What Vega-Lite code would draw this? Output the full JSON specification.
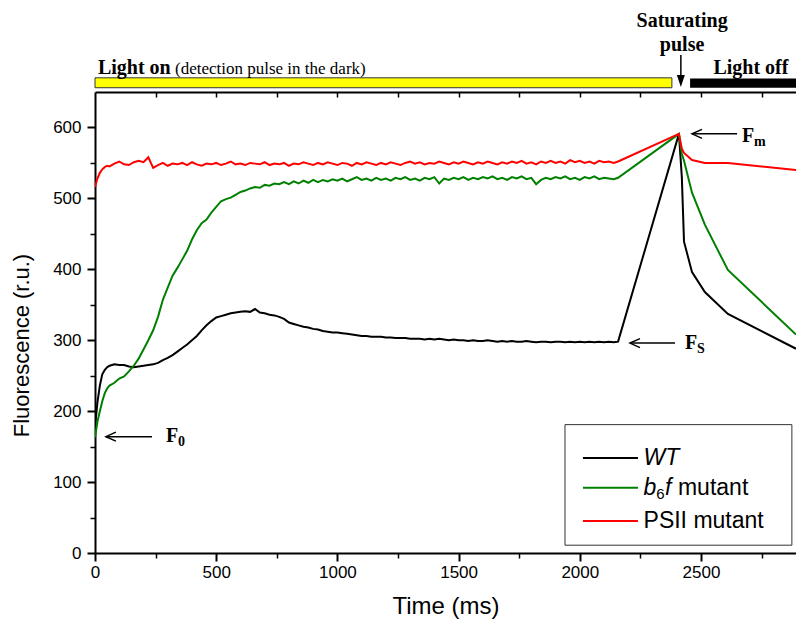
{
  "$schema": "https://vega.github.io/schema/vega-lite/v6.json",
  "width": 701,
  "height": 461,
  "autosize": "none",
  "padding": {"left": 95, "top": 92, "right": 0, "bottom": 72},
  "background": "white",
  "config": {
    "view": {"stroke": null},
    "axis": {"grid": false, "domainColor": "black", "tickColor": "black", "labelColor": "black", "titleColor": "black", "labelFont": "Liberation Sans", "titleFont": "Liberation Sans", "labelFlush": false}
  },
  "resolve": {"axis": {"x": "independent", "y": "independent"}},
  "datasets": {
    "curves": [
      {"t":0,"a":178,"b":163,"c":516},{"t":10,"a":212,"b":185,"c":528},{"t":20,"a":236,"b":200,"c":536},{"t":30,"a":252,"b":214,"c":541},{"t":40,"a":258,"b":225,"c":544},{"t":50,"a":262,"b":232,"c":546},{"t":60,"a":264,"b":236,"c":545},{"t":80,"a":266,"b":240,"c":549},{"t":100,"a":265,"b":246,"c":552},{"t":120,"a":265,"b":249,"c":548},{"t":140,"a":263,"b":256,"c":547},{"t":160,"a":262,"b":264,"c":551},{"t":180,"a":263,"b":274,"c":553},{"t":200,"a":264,"b":287,"c":551},{"t":220,"a":265,"b":300,"c":558},{"t":240,"a":266,"b":314,"c":543},{"t":260,"a":268,"b":333,"c":547},{"t":280,"a":272,"b":357,"c":550},{"t":300,"a":275,"b":374,"c":546},{"t":320,"a":279,"b":391,"c":549},{"t":340,"a":284,"b":402,"c":548},{"t":360,"a":289,"b":414,"c":550},{"t":380,"a":294,"b":426,"c":547},{"t":400,"a":300,"b":442,"c":551},{"t":420,"a":306,"b":455,"c":548},{"t":440,"a":314,"b":465,"c":546},{"t":460,"a":321,"b":470,"c":549},{"t":480,"a":327,"b":480,"c":548},{"t":500,"a":332,"b":488,"c":550},{"t":520,"a":334,"b":496,"c":547},{"t":540,"a":336,"b":499,"c":549},{"t":560,"a":338,"b":501,"c":552},{"t":580,"a":339,"b":505,"c":548},{"t":600,"a":340,"b":509,"c":549},{"t":620,"a":341,"b":511,"c":547},{"t":640,"a":340,"b":514,"c":550},{"t":660,"a":344,"b":516,"c":549},{"t":680,"a":339,"b":515,"c":548},{"t":700,"a":338,"b":519,"c":551},{"t":720,"a":336,"b":518,"c":547},{"t":740,"a":335,"b":521,"c":549},{"t":760,"a":333,"b":520,"c":548},{"t":780,"a":330,"b":523,"c":550},{"t":800,"a":325,"b":520,"c":546},{"t":820,"a":323,"b":524,"c":549},{"t":840,"a":321,"b":521,"c":548},{"t":860,"a":319,"b":525,"c":551},{"t":880,"a":318,"b":522,"c":549},{"t":900,"a":316,"b":526,"c":547},{"t":920,"a":315,"b":523,"c":550},{"t":940,"a":313,"b":526,"c":548},{"t":960,"a":312,"b":524,"c":551},{"t":980,"a":311,"b":527,"c":549},{"t":1000,"a":311,"b":525,"c":547},{"t":1020,"a":310,"b":528,"c":550},{"t":1040,"a":309,"b":524,"c":549},{"t":1060,"a":308,"b":527,"c":546},{"t":1080,"a":307,"b":530,"c":550},{"t":1100,"a":306,"b":526,"c":548},{"t":1120,"a":306,"b":528,"c":551},{"t":1140,"a":305,"b":525,"c":549},{"t":1160,"a":305,"b":529,"c":547},{"t":1180,"a":305,"b":526,"c":550},{"t":1200,"a":304,"b":528,"c":548},{"t":1220,"a":304,"b":525,"c":551},{"t":1240,"a":303,"b":529,"c":549},{"t":1260,"a":303,"b":527,"c":547},{"t":1280,"a":303,"b":530,"c":550},{"t":1300,"a":302,"b":526,"c":552},{"t":1320,"a":302,"b":528,"c":549},{"t":1340,"a":302,"b":525,"c":551},{"t":1360,"a":301,"b":529,"c":548},{"t":1380,"a":302,"b":527,"c":550},{"t":1400,"a":301,"b":530,"c":549},{"t":1420,"a":302,"b":521,"c":552},{"t":1440,"a":301,"b":528,"c":550},{"t":1460,"a":300,"b":526,"c":548},{"t":1480,"a":301,"b":529,"c":551},{"t":1500,"a":300,"b":527,"c":549},{"t":1520,"a":300,"b":530,"c":552},{"t":1540,"a":299,"b":526,"c":550},{"t":1560,"a":300,"b":529,"c":548},{"t":1580,"a":299,"b":527,"c":551},{"t":1600,"a":299,"b":530,"c":549},{"t":1620,"a":300,"b":528,"c":552},{"t":1640,"a":299,"b":531,"c":550},{"t":1660,"a":298,"b":527,"c":548},{"t":1680,"a":299,"b":529,"c":551},{"t":1700,"a":298,"b":526,"c":549},{"t":1720,"a":299,"b":530,"c":552},{"t":1740,"a":298,"b":528,"c":550},{"t":1760,"a":298,"b":531,"c":553},{"t":1780,"a":299,"b":527,"c":549},{"t":1800,"a":298,"b":529,"c":551},{"t":1820,"a":297,"b":520,"c":548},{"t":1840,"a":298,"b":526,"c":552},{"t":1860,"a":298,"b":529,"c":550},{"t":1880,"a":297,"b":527,"c":553},{"t":1900,"a":298,"b":530,"c":550},{"t":1920,"a":298,"b":528,"c":552},{"t":1940,"a":297,"b":531,"c":549},{"t":1960,"a":298,"b":527,"c":554},{"t":1980,"a":297,"b":529,"c":551},{"t":2000,"a":298,"b":526,"c":553},{"t":2020,"a":297,"b":530,"c":550},{"t":2040,"a":298,"b":528,"c":552},{"t":2060,"a":297,"b":531,"c":549},{"t":2080,"a":298,"b":527,"c":553},{"t":2100,"a":297,"b":529,"c":551},{"t":2120,"a":298,"b":528,"c":552},{"t":2140,"a":297,"b":527,"c":550},{"t":2158,"a":298,"b":529,"c":552},
      {"t":2409,"a":591,"b":591,"c":591},{"t":2421,"a":530,"b":563,"c":570},{"t":2430,"a":439,"b":553,"c":564},{"t":2463,"a":396,"b":508,"c":554},{"t":2516,"a":368,"b":463,"c":550},{"t":2611,"a":337,"b":399,"c":550},{"t":2892,"a":288,"b":308,"c":540}
    ],
    "arrows": [
      {"t1":45,"t2":235,"v":164},
      {"t1":2207,"t2":2393,"v":296},
      {"t1":2463,"t2":2649,"v":591}
    ]
  },
  "layer": [
    {
      "data": {"values": [{"t1":0,"t2":2380,"v1":656,"v2":670}]},
      "mark": {"type": "rect", "color": "#ffff00", "stroke": "#333333", "strokeWidth": 1},
      "encoding": {
        "x": {"field":"t1","type":"quantitative","scale":{"domain":[0,2892],"nice":false},
          "axis":{"orient":"bottom","values":[250,750,1250,1750,2250,2750],"labels":false,"domain":false,"tickSize":5,"tickWidth":1.5,"title":null}},
        "x2": {"field":"t2"},
        "y": {"field":"v1","type":"quantitative","scale":{"domain":[0,650],"nice":false},
          "axis":{"orient":"left","values":[50,150,250,350,450,550],"labels":false,"domain":false,"tickSize":5,"tickWidth":1.5,"title":null}},
        "y2": {"field":"v2"}
      }
    },
    {
      "data": {"values": [{"t1":2455,"t2":2892,"v1":656,"v2":669}]},
      "mark": {"type": "rect", "color": "black"},
      "encoding": {
        "x": {"field":"t1","type":"quantitative","scale":{"domain":[0,2892],"nice":false},
          "axis":{"orient":"bottom","offset":-461,"values":[250,500,750,1000,1250,1500,1750,2000,2250,2500,2750],"labels":false,"tickSize":5,"tickWidth":1.5,"domainWidth":2,"title":null}},
        "x2": {"field":"t2"},
        "y": {"field":"v1","type":"quantitative","scale":{"domain":[0,650],"nice":false},"axis":null},
        "y2": {"field":"v2"}
      }
    },
    {
      "data": {"name": "curves"},
      "transform": [{"fold": ["a","b","c"], "as": ["s","v"]}],
      "mark": {"type": "line", "strokeWidth": 2, "clip": true},
      "encoding": {
        "x": {"field":"t","type":"quantitative","scale":{"domain":[0,2892],"nice":false},
          "axis":{"orient":"bottom","values":[0,500,1000,1500,2000,2500],"format":"d","title":"Time (ms)","tickSize":8,"tickWidth":2,"domainWidth":2,"labelFontSize":17,"labelPadding":3,"titleFontSize":24,"titleFontWeight":"normal","titleBaseline":"top","titleY":41}},
        "y": {"field":"v","type":"quantitative","scale":{"domain":[0,650],"nice":false},
          "axis":{"orient":"left","values":[0,100,200,300,400,500,600],"format":"d","title":"Fluorescence (r.u.)","tickSize":8,"tickWidth":2,"domainWidth":2,"labelFontSize":17,"labelPadding":6,"titleFontSize":22,"titleFontWeight":"normal","titleAngle":-90,"titleBaseline":"bottom","titleAlign":"center","titleX":-62,"titleY":253}},
        "color": {"field":"s","type":"nominal","scale":{"domain":["a","b","c"],"range":["#000000","#008000","#ff0000"]},"legend":null}
      }
    },
    {
      "data": {"name": "arrows"},
      "mark": {"type": "rule", "color": "black", "strokeWidth": 1.5},
      "encoding": {
        "x": {"field":"t1","type":"quantitative","axis":null},
        "x2": {"field":"t2"},
        "y": {"field":"v","type":"quantitative","axis":null}
      }
    },
    {
      "data": {"name": "arrows"},
      "mark": {"type": "point", "shape": "M2,-0.9L0,0L2,0.9", "filled": false, "size": 100, "color": "black", "strokeWidth": 1.5, "opacity": 1},
      "encoding": {
        "x": {"field":"t1","type":"quantitative","axis":null},
        "y": {"field":"v","type":"quantitative","axis":null}
      }
    },
    {
      "data": {"values": [{"t":2417,"v1":702,"v2":670}]},
      "mark": {"type": "rule", "color": "black", "strokeWidth": 1.5},
      "encoding": {
        "x": {"field":"t","type":"quantitative","axis":null},
        "y": {"field":"v1","type":"quantitative","axis":null},
        "y2": {"field":"v2"}
      }
    },
    {
      "data": {"values": [{"t":2417,"v":657}]},
      "mark": {"type": "point", "shape": "M-1,-3L1,-3L0,0Z", "filled": true, "size": 64, "color": "black", "opacity": 1},
      "encoding": {
        "x": {"field":"t","type":"quantitative","axis":null},
        "y": {"field":"v","type":"quantitative","axis":null}
      }
    },
    {
      "data": {"values": [
        {"t":12,"v":676,"txt":"Light on"},
        {"t":293,"v":157,"txt":"F"},
        {"t":2434,"v":288,"txt":"F"},
        {"t":2669,"v":580,"txt":"F"}
      ]},
      "mark": {"type": "text", "font": "Liberation Serif", "fontWeight": "bold", "fontSize": 20, "align": "left", "baseline": "alphabetic", "color": "black"},
      "encoding": {
        "x": {"field":"t","type":"quantitative","axis":null},
        "y": {"field":"v","type":"quantitative","axis":null},
        "text": {"field":"txt"}
      }
    },
    {
      "data": {"values": [
        {"t":2422,"v":741,"txt":"Saturating"},
        {"t":2422,"v":708,"txt":"pulse"},
        {"t":2706,"v":676,"txt":"Light off"}
      ]},
      "mark": {"type": "text", "font": "Liberation Serif", "fontWeight": "bold", "fontSize": 20, "align": "center", "baseline": "alphabetic", "color": "black"},
      "encoding": {
        "x": {"field":"t","type":"quantitative","axis":null},
        "y": {"field":"v","type":"quantitative","axis":null},
        "text": {"field":"txt"}
      }
    },
    {
      "data": {"values": [{"t":330,"v":676,"txt":"(detection pulse in the dark)"}]},
      "mark": {"type": "text", "font": "Liberation Serif", "fontSize": 17, "align": "left", "baseline": "alphabetic", "color": "black"},
      "encoding": {
        "x": {"field":"t","type":"quantitative","axis":null},
        "y": {"field":"v","type":"quantitative","axis":null},
        "text": {"field":"txt"}
      }
    },
    {
      "data": {"values": [
        {"t":342,"v":151,"txt":"0"},
        {"t":2484,"v":282,"txt":"S"},
        {"t":2719,"v":574,"txt":"m"}
      ]},
      "mark": {"type": "text", "font": "Liberation Serif", "fontWeight": "bold", "fontSize": 14, "align": "left", "baseline": "alphabetic", "color": "black"},
      "encoding": {
        "x": {"field":"t","type":"quantitative","axis":null},
        "y": {"field":"v","type":"quantitative","axis":null},
        "text": {"field":"txt"}
      }
    },
    {
      "data": {"values": [{"t1":1939,"t2":2875,"v1":11,"v2":181}]},
      "mark": {"type": "rect", "fill": "white", "stroke": "#333333", "strokeWidth": 1},
      "encoding": {
        "x": {"field":"t1","type":"quantitative","axis":null},
        "x2": {"field":"t2"},
        "y": {"field":"v1","type":"quantitative","axis":null},
        "y2": {"field":"v2"}
      }
    },
    {
      "data": {"values": [
        {"t1":2013,"t2":2240,"v":134,"s":"a"},
        {"t1":2013,"t2":2240,"v":92,"s":"b"},
        {"t1":2013,"t2":2240,"v":45,"s":"c"}
      ]},
      "mark": {"type": "rule", "strokeWidth": 2},
      "encoding": {
        "x": {"field":"t1","type":"quantitative","axis":null},
        "x2": {"field":"t2"},
        "y": {"field":"v","type":"quantitative","axis":null},
        "color": {"field":"s","type":"nominal","legend":null}
      }
    },
    {
      "data": {"values": [
        {"t":2263,"v":134,"txt":"WT"},
        {"t":2263,"v":92,"txt":"b"},
        {"t":2352,"v":92,"txt":"f"}
      ]},
      "mark": {"type": "text", "font": "Liberation Sans", "fontStyle": "italic", "fontSize": 23, "align": "left", "baseline": "middle", "color": "black"},
      "encoding": {
        "x": {"field":"t","type":"quantitative","axis":null},
        "y": {"field":"v","type":"quantitative","axis":null},
        "text": {"field":"txt"}
      }
    },
    {
      "data": {"values": [
        {"t":2405,"v":92,"txt":"mutant"},
        {"t":2263,"v":45,"txt":"PSII mutant"}
      ]},
      "mark": {"type": "text", "font": "Liberation Sans", "fontSize": 23, "align": "left", "baseline": "middle", "color": "black"},
      "encoding": {
        "x": {"field":"t","type":"quantitative","axis":null},
        "y": {"field":"v","type":"quantitative","axis":null},
        "text": {"field":"txt"}
      }
    },
    {
      "data": {"values": [{"t":2315,"v":83,"txt":"6"}]},
      "mark": {"type": "text", "font": "Liberation Sans", "fontSize": 15, "align": "left", "baseline": "middle", "color": "black"},
      "encoding": {
        "x": {"field":"t","type":"quantitative","axis":null},
        "y": {"field":"v","type":"quantitative","axis":null},
        "text": {"field":"txt"}
      }
    }
  ]
}
